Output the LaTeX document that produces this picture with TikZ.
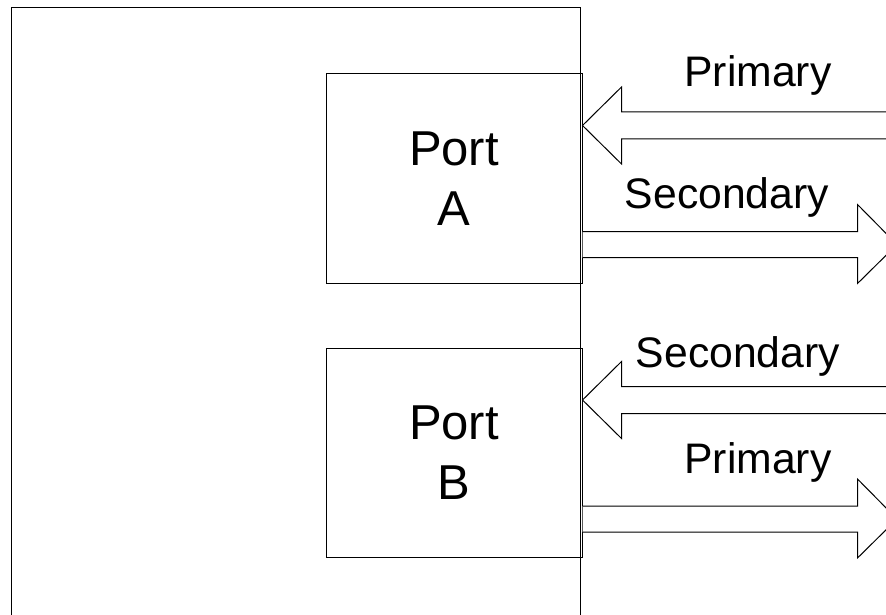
\documentclass[tikz,border=0pt]{standalone}
\usepackage{fontspec}
\setmainfont{Liberation Sans}
\usetikzlibrary{positioning}

\tikzset{
  port/.style={draw, minimum width=256pt, minimum height=209pt, inner sep=0pt,
    align=center, font=\fontsize{49}{60}\selectfont},
  flow/.style={draw, fill=white, line join=miter},
  flowlabel/.style={anchor=base, inner sep=0pt, font=\fontsize{42.7}{51}\selectfont}
}

\begin{document}
\begin{tikzpicture}[x=1pt, y=-1pt, line width=1pt]
            \clip (0,0) rectangle (886,615);
            \draw (11,8) rectangle (580,660);
            \node[port] (portA) at (454,178.5) {Port\\A};
            \node[port] (portB) at (454,453) {Port\\B};
            \foreach \p in {portA,portB}{
                \draw[flow] ([yshift=53pt]\p.east) -- ++(39,-38.5) -- ++(0,25) -- ++(300,0) -- ++(0,27) -- ++(-300,0) -- ++(0,25) -- cycle;
                \draw[flow] ([yshift=-53pt]\p.east) -- ++(275,0) -- ++(0,-27) -- ++(39.5,40) -- ++(-39.5,39) -- ++(0,-26) -- ++(-275,0);
            }
            \node[flowlabel] (primaryA) at (758,86.7) {Primary};
            \node[flowlabel] (secondaryA) at (727,208) {Secondary};
            \node[flowlabel] (secondaryB) at (738,367) {Secondary};
            \node[flowlabel] (primaryB) at (758,473) {Primary};
        \end{tikzpicture}
\end{document}
